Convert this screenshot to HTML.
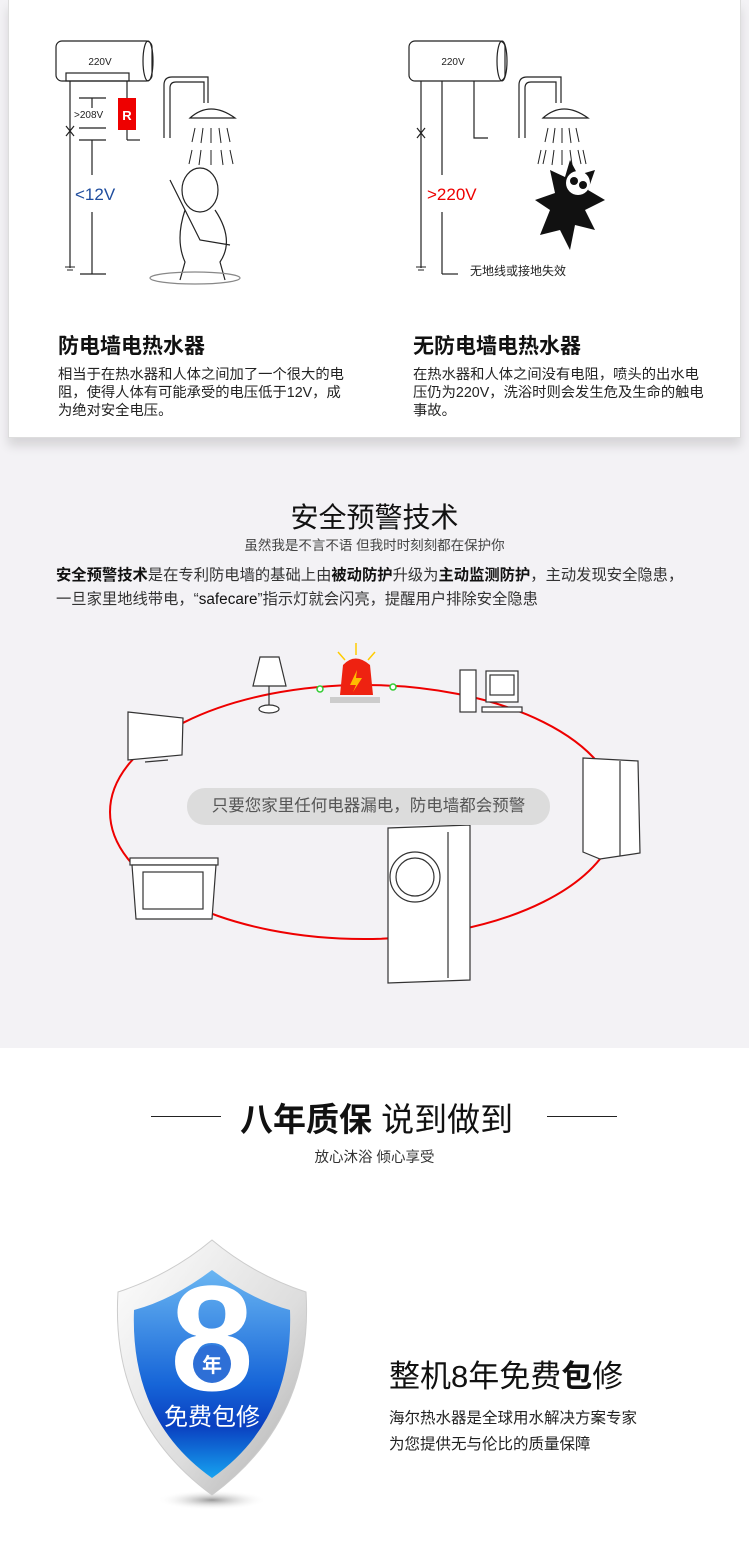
<!DOCTYPE html>
<html><head><meta charset="utf-8"><style>
*{margin:0;padding:0;box-sizing:border-box}
body{width:749px;height:1564px;position:relative;background:#f3f2f5;font-family:"Liberation Sans","Noto Sans CJK SC",sans-serif;overflow:hidden}
.a{position:absolute;white-space:nowrap}
.card{position:absolute;left:8px;top:0;width:733px;height:438px;background:#fff;border:1px solid #ddd;border-top:none;box-shadow:0 8px 10px rgba(0,0,0,.12)}
.h{font-weight:bold;font-size:21px;color:#111}
.p{font-size:14.3px;color:#222;line-height:18px;white-space:normal}
</style></head><body>
<div class="card"></div>
<svg class="a" style="left:0;top:0" width="749" height="440">
<g fill="none" stroke="#222" stroke-width="1.2">
<rect x="56" y="41" width="96" height="40" rx="6"/><ellipse cx="148" cy="61" rx="5" ry="20"/>
<rect x="66" y="73" width="63" height="8"/>
<line x1="70" y1="81" x2="70" y2="268"/><line x1="127" y1="81" x2="127" y2="99"/>
<line x1="127" y1="130" x2="127" y2="140"/><line x1="127" y1="140" x2="140" y2="140"/>
<line x1="79" y1="98" x2="106" y2="98"/><line x1="92" y1="98" x2="92" y2="108"/>
<line x1="79" y1="128" x2="106" y2="128"/><line x1="79" y1="140" x2="106" y2="140"/>
<line x1="92" y1="140" x2="92" y2="175"/><line x1="92" y1="212" x2="92" y2="274"/><line x1="80" y1="274" x2="106" y2="274"/>
<line x1="66" y1="126" x2="74" y2="136"/><line x1="74" y1="126" x2="66" y2="136"/>
<path d="M164 138 V85 Q164 77 172 77 H208 V103"/><path d="M170 138 V88 Q170 82 176 82 H204 V103"/>
<path d="M190 118 Q210 100 235 118 Z"/>
<rect x="409" y="41" width="96" height="40" rx="6"/><ellipse cx="502" cy="61" rx="5" ry="20"/>
<line x1="421" y1="81" x2="421" y2="268"/><line x1="442" y1="81" x2="442" y2="175"/><line x1="442" y1="212" x2="442" y2="274"/><line x1="442" y1="274" x2="458" y2="274"/>
<path d="M474 81 V138 H488"/>
<line x1="417" y1="128" x2="425" y2="138"/><line x1="425" y1="128" x2="417" y2="138"/>
<path d="M519 138 V85 Q519 77 527 77 H561 V103"/><path d="M525 138 V88 Q525 82 531 82 H556 V103"/>
<path d="M543 118 Q563 100 588 118 Z"/>
<g stroke-width="1"><path d="M195 128l-3 14M203 128l-2 15M211 128v15M219 128l2 15M227 128l3 14M192 150l-3 14M201 150l-2 15M211 150v15M221 150l2 15M230 150l3 14"/>
<path d="M548 128l-3 14M555 128l-2 15M562 128v15M569 128l2 15M576 128l3 14M546 150l-3 14M554 150l-2 15M562 150v15M570 150l2 15M578 150l3 14M583 150l3 14M541 150l-3 14"/></g>
<ellipse cx="200" cy="190" rx="18" ry="22"/><path d="M185 210 Q175 240 185 262 L180 280 M215 210 Q235 240 220 262 L225 280 M170 180 L200 240 L230 245"/>
<ellipse cx="195" cy="278" rx="45" ry="6" stroke="#888"/>
</g>
<rect x="118" y="98" width="18" height="32" fill="#e00"/>
<text x="127" y="120" font-size="13" fill="#fff" text-anchor="middle" font-weight="bold">R</text>
<text x="100" y="65" font-size="10" fill="#222" text-anchor="middle">220V</text>
<text x="453" y="65" font-size="10" fill="#222" text-anchor="middle">220V</text>
<text x="74" y="118" font-size="10" fill="#222">&gt;208V</text>
<text x="75" y="200" font-size="17" fill="#1f4d9e">&lt;12V</text>
<text x="427" y="200" font-size="17" fill="#e00">&gt;220V</text>
<text x="470" y="275" font-size="12" fill="#222" font-family="Noto Sans CJK SC">无地线或接地失效</text>
<g transform="translate(570,205)"><polygon points="0,-45 8,-30 25,-35 18,-15 35,-5 15,5 25,25 5,20 0,45 -10,25 -30,30 -20,5 -35,-5 -15,-12 -20,-35 -5,-28" fill="#111"/><circle cx="8" cy="-22" r="12" fill="#fff"/><circle cx="4" cy="-24" r="4" fill="#111"/><circle cx="13" cy="-20" r="4" fill="#111"/></g>
<g stroke="#222"><line x1="65" y1="267" x2="75" y2="267"/><line x1="67" y1="270" x2="73" y2="270"/><line x1="416" y1="267" x2="426" y2="267"/><line x1="418" y1="270" x2="424" y2="270"/></g>
</svg>
<div class="a h" style="left:58px;top:330px">防电墙电热水器</div>
<div class="a h" style="left:413px;top:330px">无防电墙电热水器</div>
<div class="a p" style="left:58px;top:366px;width:292px">相当于在热水器和人体之间加了一个很大的电阻，使得人体有可能承受的电压低于12V，成为绝对安全电压。</div>
<div class="a p" style="left:413px;top:366px;width:292px">在热水器和人体之间没有电阻，喷头的出水电压仍为220V，洗浴时则会发生危及生命的触电事故。</div>

<div class="a" style="left:0;width:749px;top:496px;text-align:center;font-size:28px;color:#111">安全预警技术</div>
<div class="a" style="left:0;width:749px;top:534px;text-align:center;font-size:13.5px;color:#444">虽然我是不言不语 但我时时刻刻都在保护你</div>
<div class="a" style="left:56px;top:563px;font-size:15.3px;color:#333"><b style="color:#111">安全预警技术</b>是在专利防电墙的基础上由<b style="color:#111">被动防护</b>升级为<b style="color:#111">主动监测防护</b>，主动发现安全隐患，</div>
<div class="a" style="left:56px;top:587px;font-size:15.3px;color:#333">一旦家里地线带电，“<span style="color:#111">safecare</span>”指示灯就会闪亮，提醒用户排除安全隐患</div>
<svg class="a" style="left:0;top:640px" width="749" height="350">
<ellipse cx="364" cy="172" rx="254" ry="127" fill="none" stroke="#e00" stroke-width="2"/>
<circle cx="320" cy="49" r="3" fill="#fff" stroke="#3c3" stroke-width="1.5"/><circle cx="393" cy="47" r="3" fill="#fff" stroke="#3c3" stroke-width="1.5"/>
<g fill="#fff" stroke="#333" stroke-width="1.2">
<rect x="330" y="57" width="50" height="6" fill="#ccc" stroke="none"/>
<polygon points="260,17 279,17 286,46 253,46"/><line x1="269" y1="46" x2="269" y2="68"/><ellipse cx="269" cy="69" rx="10" ry="4"/>
<polygon points="128,72 183,78 182,115 128,120"/><line x1="145" y1="122" x2="168" y2="120"/>
<rect x="460" y="30" width="16" height="42"/><rect x="486" y="31" width="32" height="31"/><rect x="490" y="35" width="24" height="20"/><rect x="482" y="67" width="40" height="5"/>
<polygon points="583,118 638,121 640,213 600,219 583,212"/><line x1="620" y1="121" x2="620" y2="216"/>
<rect x="130" y="218" width="88" height="7"/><polygon points="132,225 216,225 212,279 136,279"/><rect x="143" y="232" width="60" height="37"/>
<polygon points="388,188 470,185 470,340 388,343"/><line x1="448" y1="192" x2="448" y2="338"/><circle cx="415" cy="237" r="25"/><circle cx="415" cy="237" r="19"/>
</g>
<path d="M340 55 L343 25 Q355 12 370 25 L373 55 Z" fill="#e21"/><polygon points="357,30 350,45 356,45 353,52 362,38 356,38" fill="#fb0"/>
<g stroke="#fc0" stroke-width="1.5"><line x1="345" y1="20" x2="338" y2="12"/><line x1="356" y1="15" x2="356" y2="3"/><line x1="368" y1="20" x2="375" y2="12"/></g>
</svg>
<div class="a" style="left:187px;top:788px;width:363px;height:37px;border-radius:18px;background:#dcdcdc;text-align:center;line-height:37px;font-size:16.5px;color:#555">只要您家里任何电器漏电，防电墙都会预警</div>

<div class="a" style="left:0;top:1048px;width:749px;height:516px;background:#fff"></div>
<div class="a" style="left:151px;top:1116px;width:70px;height:1px;background:#222"></div>
<div class="a" style="left:547px;top:1116px;width:70px;height:1px;background:#222"></div>
<div class="a" style="left:240px;top:1093px;font-size:33px;color:#111"><b>八年质保</b> 说到做到</div>
<div class="a" style="left:0;width:749px;top:1146px;text-align:center;font-size:14.5px;color:#333">放心沐浴 倾心享受</div>
<svg class="a" style="left:100px;top:1230px" width="240" height="290">
<defs><linearGradient id="s" x1="0" y1="0" x2="1" y2="1"><stop offset="0" stop-color="#fff"/><stop offset=".6" stop-color="#ddd"/><stop offset="1" stop-color="#aaa"/></linearGradient>
<linearGradient id="b" x1="0" y1="0" x2="0" y2="1"><stop offset="0" stop-color="#6ab6f2"/><stop offset=".55" stop-color="#1665d8"/><stop offset=".75" stop-color="#0a3fc0"/><stop offset="1" stop-color="#16a3f0"/></linearGradient>
<radialGradient id="sh"><stop offset="0" stop-color="#999"/><stop offset="1" stop-color="#fff" stop-opacity="0"/></radialGradient></defs>
<ellipse cx="112" cy="270" rx="55" ry="10" fill="url(#sh)"/>
<path d="M112 10 Q70 45 18 62 Q10 190 112 265 Q214 190 206 62 Q154 45 112 10Z" fill="url(#s)" stroke="#ccc"/>
<path d="M112 40 Q72 70 34 80 Q30 190 112 248 Q194 190 190 80 Q152 70 112 40Z" fill="url(#b)"/>
<text x="112" y="160" font-size="150" font-weight="bold" fill="#fff" text-anchor="middle" font-family="Liberation Sans">8</text>
<circle cx="112" cy="134" r="19" fill="#2e6fd6"/>
<text x="112" y="142" font-size="20" font-weight="bold" fill="#fff" text-anchor="middle" font-family="Noto Sans CJK SC">年</text>
<text x="112" y="195" font-size="24" fill="#fff" text-anchor="middle" font-family="Noto Sans CJK SC">免费包修</text>
</svg>
<div class="a" style="left:389px;top:1351px;font-size:31px;color:#111">整机8年免费<b>包</b>修</div>
<div class="a" style="left:389px;top:1406px;font-size:15.5px;color:#222">海尔热水器是全球用水解决方案专家</div>
<div class="a" style="left:389px;top:1432px;font-size:15.5px;color:#222">为您提供无与伦比的质量保障</div>
</body></html>
